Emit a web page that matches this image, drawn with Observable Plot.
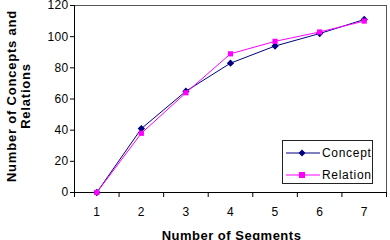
<!DOCTYPE html>
<html><head><meta charset="utf-8">
<script src="https://cdn.jsdelivr.net/npm/d3@7"></script>
<script src="https://cdn.jsdelivr.net/npm/@observablehq/plot@0.6"></script>
<style>
body{margin:0;background:#fff;}
#chart{position:relative;width:390px;height:240px;overflow:hidden;font-family:Arial,"Liberation Sans",sans-serif;}
#chart svg text{fill:#000;}
g[aria-label="text"] text{letter-spacing:0.5px;}
g[aria-label="x-axis tick label"] text, g[aria-label="y-axis tick label"] text{letter-spacing:0.3px;}
#ytitle{position:absolute;left:19px;top:96px;width:220px;transform:translate(-50%,-50%) rotate(-90deg);text-align:center;font-weight:bold;font-size:13px;line-height:14px;letter-spacing:0.8px;color:#000;white-space:pre;}
#legend{position:absolute;left:282px;top:140px;width:91px;height:44px;border:1px solid #222;background:#fff;box-sizing:border-box;}
#legend .row{position:absolute;left:0;height:14px;display:flex;align-items:center;}
#legend .row span{font-size:12px;letter-spacing:0.7px;color:#000;margin-left:1px;}
</style></head><body><div id="chart"></div>
<script>
const segments = [1, 2, 3, 4, 5, 6, 7];
const concept = [0, 41, 65, 83, 94, 102, 111];
const relation = [0, 38, 64, 89, 97, 103, 110];
const yTicks = [0, 20, 40, 60, 80, 100, 120];
const seriesNames = ["Concept", "Relation"];
const seriesColors = ["#000080", "#FF00FF"];
const seriesSymbols = ["diamond2", "square2"];
const yTitle = "Number of Concepts and\nRelations";
const xTitle = "Number of Segments";

const seriesValues = [concept, relation];
const seriesData = seriesNames.map((s, i) => segments.map((x, j) => ({series: s, x, y: seriesValues[i][j]})));
const bounds = [segments[0] - 0.5, ...segments.map(d => d + 0.5)];

const marks = [
  Plot.frame({stroke: "#555"}),
  Plot.axisY({ticks: yTicks, tickSize: 4, tickPadding: 2, label: null}),
  Plot.axisX({ticks: bounds, tickSize: 5, tickFormat: () => "", label: null}),
  Plot.axisX({ticks: segments, tickSize: 0, tickPadding: 15, tickFormat: d => String(d), label: null}),
  Plot.ruleX([bounds[0]], {stroke: "#000"}),
  Plot.ruleY([0], {stroke: "#000"})
];
seriesData.forEach((d) => {
  marks.push(Plot.line(d, {x: "x", y: "y", stroke: "series", strokeWidth: 1}));
  marks.push(Plot.dot(d, {x: "x", y: "y", fill: "series", symbol: "series", r: 3.3}));
});
marks.push(Plot.text([xTitle], {frameAnchor: "bottom", dx: 1, dy: 47, fontWeight: "bold", fontSize: 13}));

const chart = Plot.plot({
  width: 390, height: 240,
  marginLeft: 74, marginRight: 4, marginTop: 5, marginBottom: 48,
  style: {fontFamily: "Arial, 'Liberation Sans', sans-serif", fontSize: "12px", color: "#000", background: "#fff"},
  x: {domain: [bounds[0], bounds[bounds.length - 1]]},
  y: {domain: [yTicks[0], yTicks[yTicks.length - 1]]},
  color: {domain: seriesNames, range: seriesColors},
  symbol: {domain: seriesNames, range: seriesSymbols},
  marks
});
const root = document.getElementById("chart");
root.appendChild(chart);

// y-axis title (two lines, rotated)
const yt = document.createElement("div");
yt.id = "ytitle";
yt.textContent = yTitle;
root.appendChild(yt);

// legend (HTML overlay)
const legend = document.createElement("div");
legend.id = "legend";
seriesNames.forEach((s, i) => {
  const row = document.createElement("div");
  row.className = "row";
  row.style.top = (5 + i * 22) + "px";
  const sym = seriesSymbols[i] === "diamond2"
    ? `<path d="M19,3.5 L22.5,7 L19,10.5 L15.5,7 Z" fill="${seriesColors[i]}"/>`
    : `<rect x="16" y="4" width="6" height="6" fill="${seriesColors[i]}"/>`;
  row.innerHTML = `<svg width="38" height="14"><line x1="3" x2="37" y1="7" y2="7" stroke="${seriesColors[i]}" stroke-width="1"/>${sym}</svg><span>${s}</span>`;
  legend.appendChild(row);
});
root.appendChild(legend);
</script></body></html>
